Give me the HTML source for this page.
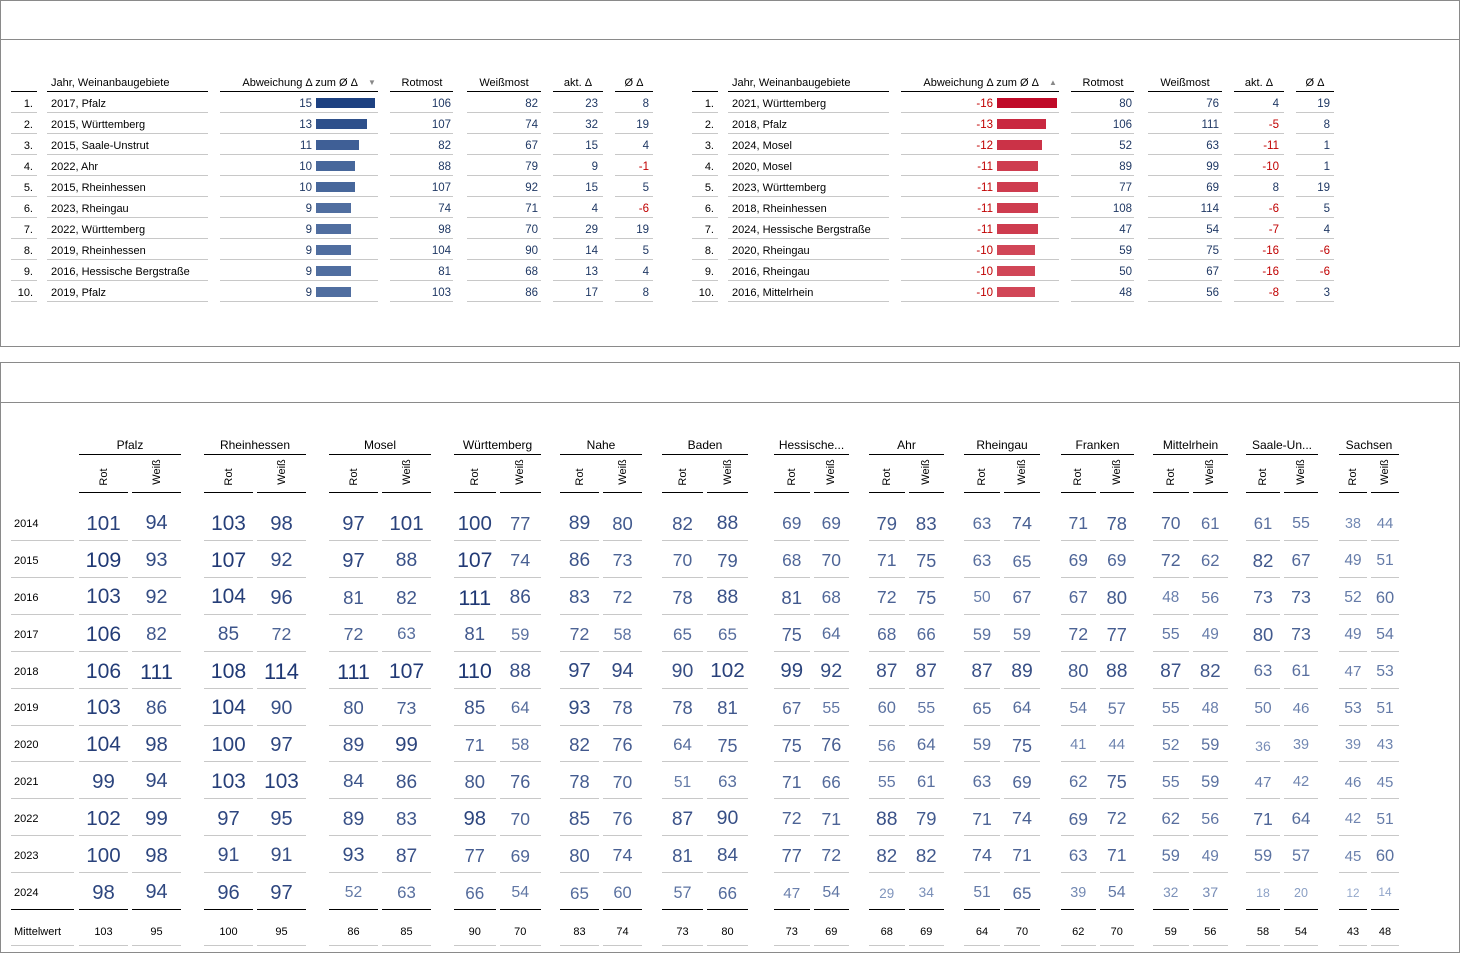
<!DOCTYPE html>
<html><head><meta charset="utf-8"><style>
body{margin:0;width:1460px;height:953px;background:#fff;position:relative;overflow:hidden;font-family:"Liberation Sans",sans-serif;}
.p{position:absolute;border:1px solid #8a8a8a;box-sizing:border-box;}
.t{position:absolute;white-space:nowrap;line-height:1;}
.l{position:absolute;height:1px;}
</style></head><body>
<div class="p" style="left:0;top:0;width:1460px;height:347px"></div>
<div class="l" style="left:1px;top:39px;width:1458px;background:#8a8a8a"></div>
<div class="p" style="left:0;top:362px;width:1460px;height:591px"></div>
<div class="l" style="left:1px;top:402px;width:1458px;background:#8a8a8a"></div>
<div id="c"></div>
<script>
var c=document.getElementById('c'),h='';
function T(x,y,s,txt,col,al,extra){
 var st='top:'+(y-s*0.55+2)+'px;font-size:'+s+'px;color:'+col+';';
 if(al=='r')st+='right:'+(1460-x)+'px;';else if(al=='c')st+='left:'+(x-100)+'px;width:200px;text-align:center;';else st+='left:'+x+'px;';
 h+='<div class="t" style="'+st+(extra||'')+'">'+txt+'</div>';}
function L(x1,x2,y,col){h+='<div class="l" style="left:'+x1+'px;top:'+y+'px;width:'+(x2-x1)+'px;background:'+col+'"></div>';}
var NAV='#1f3864',RED='#c00000';
var A=[[15,'2017, Pfalz',106,82,23,8],[13,'2015, Württemberg',107,74,32,19],[11,'2015, Saale-Unstrut',82,67,15,4],[10,'2022, Ahr',88,79,9,-1],[10,'2015, Rheinhessen',107,92,15,5],[9,'2023, Rheingau',74,71,4,-6],[9,'2022, Württemberg',98,70,29,19],[9,'2019, Rheinhessen',104,90,14,5],[9,'2016, Hessische Bergstraße',81,68,13,4],[9,'2019, Pfalz',103,86,17,8]];
var B=[[-16,'2021, Württemberg',80,76,4,19],[-13,'2018, Pfalz',106,111,-5,8],[-12,'2024, Mosel',52,63,-11,1],[-11,'2020, Mosel',89,99,-10,1],[-11,'2023, Württemberg',77,69,8,19],[-11,'2018, Rheinhessen',108,114,-6,5],[-11,'2024, Hessische Bergstraße',47,54,-7,4],[-10,'2020, Rheingau',59,75,-16,-6],[-10,'2016, Rheingau',50,67,-16,-6],[-10,'2016, Mittelrhein',48,56,-8,3]];
function drawTop(D,o,neg){
 var cols=[[11,37],[47,208],[220,378],[390,453],[467,541],[553,603],[615,653]];
 cols.forEach(function(a){L(a[0]+o,a[1]+o,91,'#000');});
 T(51+o,82,11,'Jahr, Weinanbaugebiete','#000','l');
 T(358+o,82,11,'Abweichung Δ zum Ø Δ','#000','r');
 T(372+o,81,8,neg?'▲':'▼','#888','c');
 T(422+o,82,11,'Rotmost','#000','c');T(504+o,82,11,'Weißmost','#000','c');
 T(578+o,82,11,'akt. Δ','#000','c');T(634+o,82,11,'Ø Δ','#000','c');
 D.forEach(function(r,i){var y=103+i*21;
  T(33+o,y,11,(i+1)+'.','#000','r');T(51+o,y,11,r[1],'#000','l');
  var v=Math.abs(r[0]);T(312+o,y,11.5,r[0],neg?RED:NAV,'r');
  var w=neg?v*3.75:v*3.9;var k=(v-9)/7;
  var col=neg?'rgb('+Math.round(212-20*k)+','+Math.round(80-70*k)+','+Math.round(95-55*k)+')':'rgb('+Math.round(80-60*k)+','+Math.round(110-52*k)+','+Math.round(160-36*k)+')';
  h+='<div style="position:absolute;left:'+(316+o)+'px;top:'+(y-5)+'px;width:'+w+'px;height:10px;background:'+col+'"></div>';
  T(451+o,y,11.5,r[2],NAV,'r');T(538+o,y,11.5,r[3],NAV,'r');
  T(598+o,y,11.5,r[4],r[4]<0?RED:NAV,'r');T(649+o,y,11.5,r[5],r[5]<0?RED:NAV,'r');
  cols.forEach(function(a){L(a[0]+o,a[1]+o,y+9,'#c8c8c8');});
 });}
drawTop(A,0,false);drawTop(B,681,true);
var G=[['Pfalz',79,181],['Rheinhessen',204,306],['Mosel',329,431],['Württemberg',454,541],['Nahe',560,642],['Baden',662,748],['Hessische...',774,849],['Ahr',869,944],['Rheingau',964,1040],['Franken',1061,1134],['Mittelrhein',1153,1228],['Saale-Un...',1246,1318],['Sachsen',1339,1399]];
var V=[
[[101,94],[103,98],[97,101],[100,77],[89,80],[82,88],[69,69],[79,83],[63,74],[71,78],[70,61],[61,55],[38,44]],
[[109,93],[107,92],[97,88],[107,74],[86,73],[70,79],[68,70],[71,75],[63,65],[69,69],[72,62],[82,67],[49,51]],
[[103,92],[104,96],[81,82],[111,86],[83,72],[78,88],[81,68],[72,75],[50,67],[67,80],[48,56],[73,73],[52,60]],
[[106,82],[85,72],[72,63],[81,59],[72,58],[65,65],[75,64],[68,66],[59,59],[72,77],[55,49],[80,73],[49,54]],
[[106,111],[108,114],[111,107],[110,88],[97,94],[90,102],[99,92],[87,87],[87,89],[80,88],[87,82],[63,61],[47,53]],
[[103,86],[104,90],[80,73],[85,64],[93,78],[78,81],[67,55],[60,55],[65,64],[54,57],[55,48],[50,46],[53,51]],
[[104,98],[100,97],[89,99],[71,58],[82,76],[64,75],[75,76],[56,64],[59,75],[41,44],[52,59],[36,39],[39,43]],
[[99,94],[103,103],[84,86],[80,76],[78,70],[51,63],[71,66],[55,61],[63,69],[62,75],[55,59],[47,42],[46,45]],
[[102,99],[97,95],[89,83],[98,70],[85,76],[87,90],[72,71],[88,79],[71,74],[69,72],[62,56],[71,64],[42,51]],
[[100,98],[91,91],[93,87],[77,69],[80,74],[81,84],[77,72],[82,82],[74,71],[63,71],[59,49],[59,57],[45,60]],
[[98,94],[96,97],[52,63],[66,54],[65,60],[57,66],[47,54],[29,34],[51,65],[39,54],[32,37],[18,20],[12,14]]];
var M=[[103,95],[100,95],[86,85],[90,70],[83,74],[73,80],[73,69],[68,69],[64,70],[62,70],[59,56],[58,54],[43,48]];
function vc(v){var k=Math.max(0,Math.min(1,(v-10)/100));return 'rgb('+Math.round(150-120*k)+','+Math.round(170-115*k)+','+Math.round(205-90*k)+')';}
G.forEach(function(g,gi){var x1=g[1],x2=g[2],mid=(x1+x2)/2;
 var sub=[[x1,mid-2],[mid+2,x2]];
 T(mid,444,12,g[0],'#000','c');L(x1,x2,454,'#000');
 sub.forEach(function(s,si){var cx=(s[0]+s[1])/2;
  h+='<div class="t" style="left:'+(cx-20)+'px;top:'+((si?472:477)-7)+'px;font-size:11px;color:#000;transform:rotate(-90deg);width:40px;text-align:center;height:14px;line-height:14px">'+(si?'Weiß':'Rot')+'</div>';
  L(s[0],s[1],492,'#000');
  for(var r=0;r<11;r++){var y=523+r*36.9;var v=V[r][gi][si];var fs=Math.max(11,10.5+v*0.1);
   T(cx,y,fs,v,vc(v),'c');L(s[0],s[1],Math.round(y+17),r==10?'#000':'#c8c8c8');}
  T(cx,931,11,M[gi][si],'#000','c');L(s[0],s[1],945,'#c8c8c8');
 });});
for(var r=0;r<11;r++){var y=523+r*36.9;T(14,y,11,2014+r,'#000','l');L(11,74,Math.round(y+17),r==10?'#000':'#c8c8c8');}
T(14,931,11,'Mittelwert','#000','l');L(11,74,945,'#c8c8c8');
c.innerHTML=h;
</script>
</body></html>
